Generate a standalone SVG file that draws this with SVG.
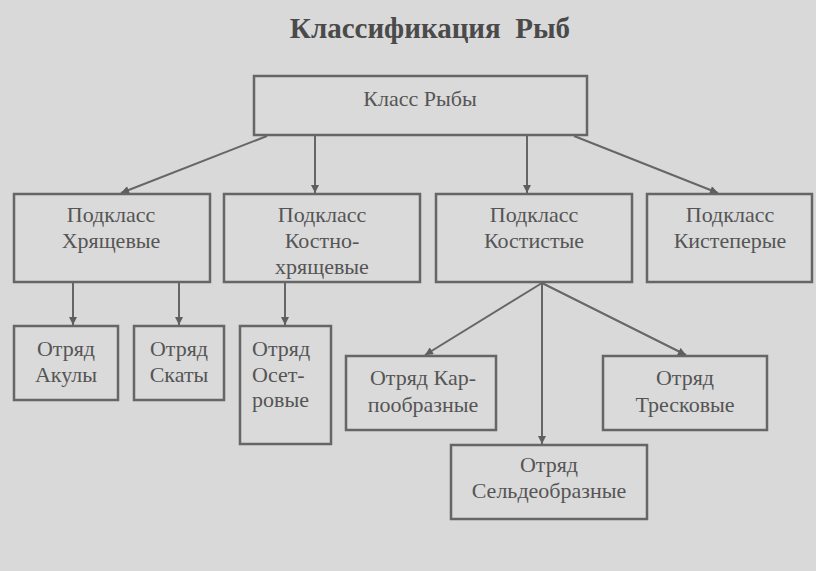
<svg xmlns="http://www.w3.org/2000/svg" width="816" height="571" viewBox="0 0 816 571">
<defs>
<marker id="ah" viewBox="0 0 10 10" refX="10" refY="5" markerWidth="9" markerHeight="8" markerUnits="userSpaceOnUse" orient="auto">
<path d="M0,0 L10,5 L0,10 Z" fill="#5e5e5e"/>
</marker>
</defs>
<style>
.bg{fill:#d9d9d9}
.box{fill:#dadada;stroke:#666;stroke-width:2.5}
.t{font-family:"Liberation Serif","Times New Roman",serif;font-size:22px;fill:#555;text-anchor:middle}
.tl{font-family:"Liberation Serif","Times New Roman",serif;font-size:22px;fill:#555;text-anchor:start}
.title{font-family:"Liberation Serif","Times New Roman",serif;font-size:29px;font-weight:bold;fill:#4a4a4a;text-anchor:middle}
.c line{stroke:#666;stroke-width:2;marker-end:url(#ah)}
</style>
<rect class="bg" x="0" y="0" width="816" height="571"/>
<text class="title" x="430" y="38">Классификация&#160; Рыб</text>
<g class="c" id="connectors">
<line x1="267" y1="136" x2="121" y2="193"/>
<line x1="315" y1="136" x2="315" y2="193"/>
<line x1="527" y1="136" x2="527" y2="193"/>
<line x1="574" y1="136" x2="718" y2="193"/>
<line x1="73" y1="283" x2="73" y2="325"/>
<line x1="179" y1="283" x2="179" y2="325"/>
<line x1="285" y1="283" x2="285" y2="325"/>
<line x1="542" y1="283" x2="425" y2="355"/>
<line x1="542" y1="283" x2="542" y2="444"/>
<line x1="542" y1="283" x2="686" y2="355"/>
</g>
<g id="class"><rect class="box" x="254" y="76" width="333" height="59"/><text class="t" x="420" y="106">Класс Рыбы</text></g>
<g id="sub1"><rect class="box" x="14" y="194" width="196" height="88"/><text class="t" x="111" y="222">Подкласс</text><text class="t" x="111" y="248">Хрящевые</text></g>
<g id="sub2"><rect class="box" x="224" y="194" width="196" height="88"/><text class="t" x="322" y="222">Подкласс</text><text class="t" x="322" y="248">Костно-</text><text class="t" x="322" y="274">хрящевые</text></g>
<g id="sub3"><rect class="box" x="436" y="194" width="196" height="88"/><text class="t" x="534" y="222">Подкласс</text><text class="t" x="534" y="248">Костистые</text></g>
<g id="sub4"><rect class="box" x="647" y="194" width="165" height="88"/><text class="t" x="730" y="222">Подкласс</text><text class="t" x="730" y="248">Кистеперые</text></g>
<g id="akuly"><rect class="box" x="14" y="326" width="104" height="74"/><text class="t" x="66" y="356">Отряд</text><text class="t" x="66" y="382">Акулы</text></g>
<g id="skaty"><rect class="box" x="134" y="326" width="90" height="74"/><text class="t" x="179" y="356">Отряд</text><text class="t" x="179" y="382">Скаты</text></g>
<g id="osetr"><rect class="box" x="240" y="326" width="91" height="118"/><text class="tl" x="252" y="356">Отряд</text><text class="tl" x="252" y="382">Осет-</text><text class="tl" x="252" y="407">ровые</text></g>
<g id="karp"><rect class="box" x="346" y="356" width="150" height="74"/><text class="t" x="423" y="385">Отряд Кар-</text><text class="t" x="423" y="412">пообразные</text></g>
<g id="tresk"><rect class="box" x="603" y="356" width="164" height="74"/><text class="t" x="685" y="385">Отряд</text><text class="t" x="685" y="412">Тресковые</text></g>
<g id="seld"><rect class="box" x="451" y="445" width="196" height="74"/><text class="t" x="549" y="472">Отряд</text><text class="t" x="549" y="498">Сельдеобразные</text></g>
</svg>
